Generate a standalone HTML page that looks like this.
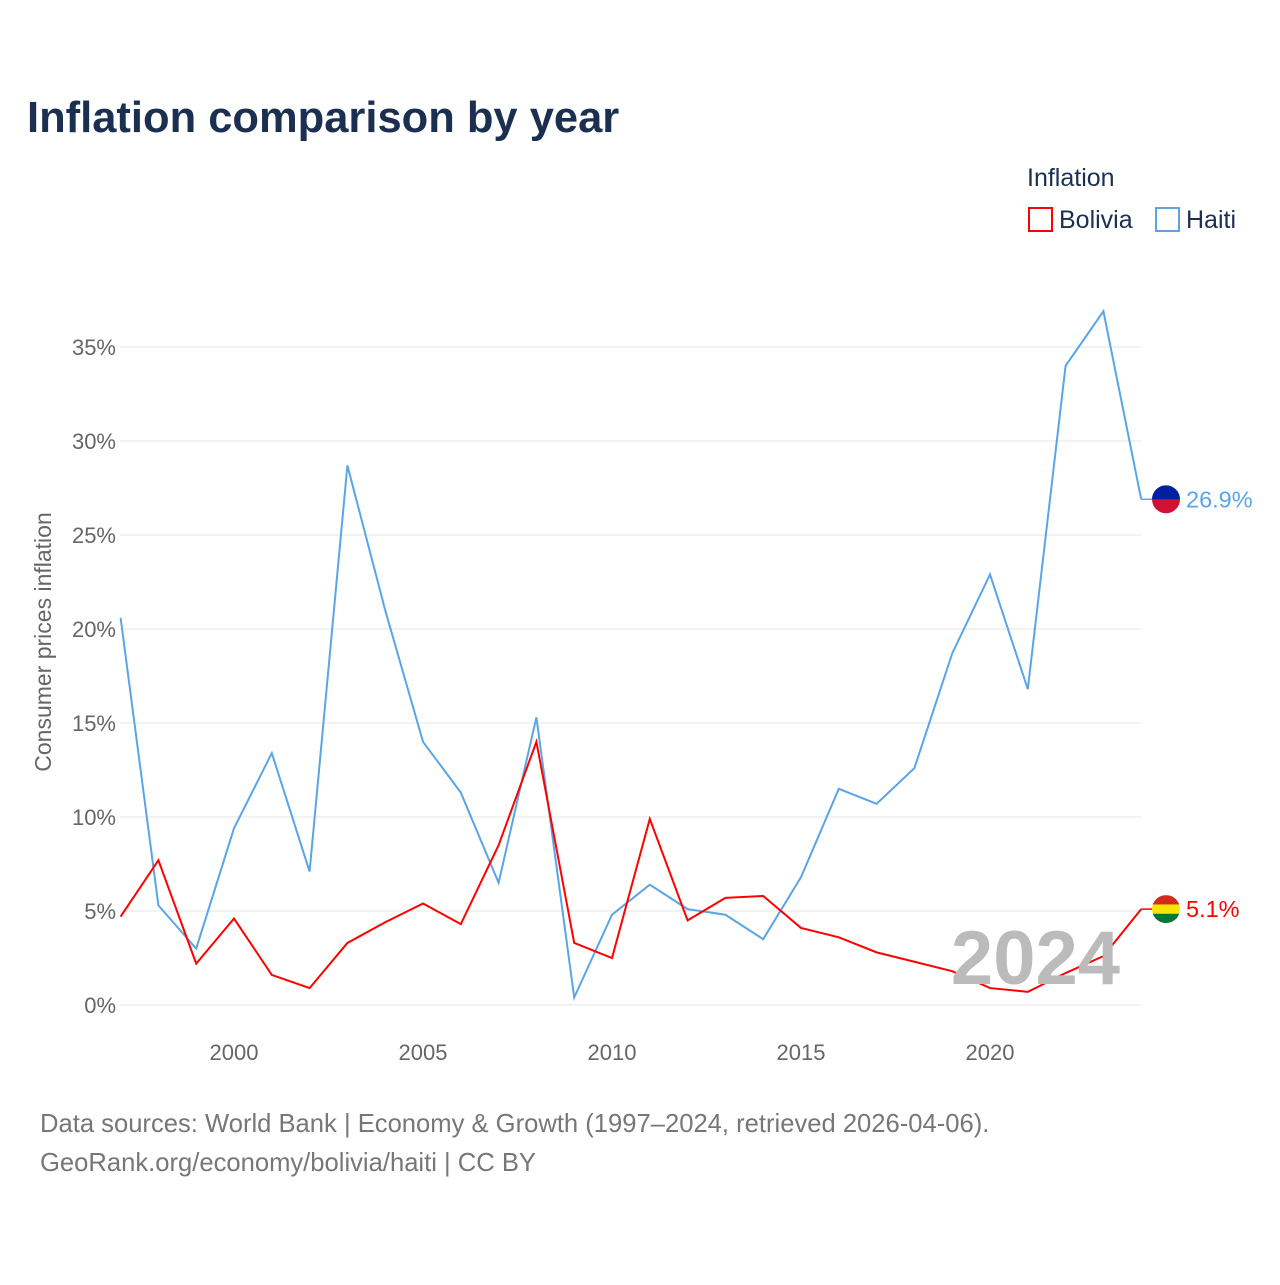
<!DOCTYPE html>
<html><head><meta charset="utf-8"><style>
body{margin:0;background:#fff;font-family:"Liberation Sans",sans-serif}
svg text{font-family:"Liberation Sans",sans-serif}
</style></head><body>
<svg id="c" width="1280" height="1280" xmlns="http://www.w3.org/2000/svg">
<text x="27" y="132" font-size="43.5" font-weight="bold" fill="#1b3050">Inflation comparison by year</text>
<text x="1027" y="186" font-size="25" fill="#1b3050">Inflation</text>
<g><rect x="1029" y="208" width="23" height="23" fill="none" stroke="red" stroke-width="2"/><text x="1059" y="228" font-size="25" fill="#1b3050">Bolivia</text></g>
<g><rect x="1156" y="208" width="23" height="23" fill="none" stroke="#5aa5e6" stroke-width="2"/><text x="1186" y="228" font-size="25" fill="#1b3050">Haiti</text></g>
<text transform="translate(51,642) rotate(-90)" text-anchor="middle" font-size="23" fill="#666">Consumer prices inflation</text>
<g id="grid"></g><g id="marks"></g>
<text x="1120" y="984" text-anchor="end" font-size="76" font-weight="bold" fill="#bbb">2024</text>
<text x="40" y="1132" font-size="25.6" fill="#777">Data sources: World Bank | Economy &amp; Growth (1997–2024, retrieved 2026-04-06).</text>
<text x="40" y="1171" font-size="25.6" fill="#777">GeoRank.org/economy/bolivia/haiti | CC BY</text>
</svg>
<script>
const years=[];for(let y=1997;y<=2024;y++)years.push(y);
const haiti=[20.6,5.3,3.0,9.4,13.4,7.1,28.7,21.0,14.0,11.3,6.5,15.3,0.4,4.8,6.4,5.1,4.8,3.5,6.8,11.5,10.7,12.6,18.7,22.9,16.8,34.0,36.9,26.9];
const bolivia=[4.7,7.7,2.2,4.6,1.6,0.9,3.3,4.4,5.4,4.3,8.5,14.0,3.3,2.5,9.9,4.5,5.7,5.8,4.1,3.6,2.8,2.3,1.8,0.9,0.7,1.7,2.6,5.1];
const yTicks=[0,5,10,15,20,25,30,35];
const xTicks=[2000,2005,2010,2015,2020];
const X=y=>120.6+(y-1997)*37.8, Y=v=>1005-v*18.8;
const NS="http://www.w3.org/2000/svg";
const g=document.getElementById('grid'),m=document.getElementById('marks');
function el(t,a,p){const e=document.createElementNS(NS,t);for(const k in a)e.setAttribute(k,a[k]);p.appendChild(e);return e;}
yTicks.forEach(v=>{
 const l=el('line',{x1:120,x2:1141,y1:Y(v),y2:Y(v),stroke:'#e6e6e6','stroke-width':1},g);
 
 
 const t=el('text',{x:116,y:Y(v)+8,'text-anchor':'end','font-size':22,fill:'#666'},g);t.textContent=v+'%';
 
 
});
xTicks.forEach(v=>{
 const t=el('text',{x:X(v),y:1060,'text-anchor':'middle','font-size':22,fill:'#666'},g);t.textContent=v;
 
 
});
function series(d,c,name,label,flag){
 const pts=d.map((v,i)=>X(years[i])+','+Y(v)).join(' ');
 const p=el('polyline',{points:pts,fill:'none',stroke:c,'stroke-width':2},m);
 
 
 const last=d[d.length-1],ly=Y(last);
 el('line',{x1:X(2024),x2:1152,y1:ly,y2:ly,stroke:c,'stroke-width':1.5},m);
 const f=el('g',{},m);
 
 
 const cp=name+'clip';
 const cl=el('clipPath',{id:cp},f);el('circle',{cx:1166,cy:ly,r:14},cl);
 flag.forEach((col,i)=>el('rect',{x:1150,y:ly-14+i*28/flag.length,width:32,height:28/flag.length+0.5,fill:col,'clip-path':'url(#'+cp+')'},f));
 const t=el('text',{x:1186,y:ly+8,'font-size':23.5,fill:c},m);t.textContent=label;
 
 
}
series(haiti,'#5aa5e6','haiti',haiti[haiti.length-1]+'%',['#00209f','#d21034']);
series(bolivia,'#ff0000','bolivia',bolivia[bolivia.length-1]+'%',['#d52b1e','#f9e300','#007934']);
</script>
</body></html>
